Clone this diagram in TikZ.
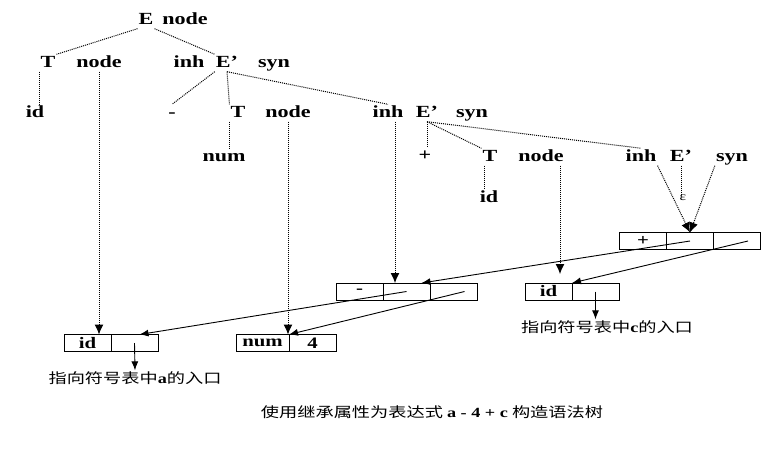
\documentclass[tikz,border=0pt]{standalone}
\usepackage{fontspec}
\setmainfont[FakeStretch=1.3]{Liberation Serif}
\newfontfamily\cjk[FakeStretch=1.3]{Noto Sans CJK SC}
\usetikzlibrary{arrows.meta,positioning}

\begin{document}
\begin{tikzpicture}[x=1pt,y=-1pt,
    lbl/.style={font=\fontsize{17}{20}\selectfont\bfseries, inner sep=1pt, text height=11.5pt, text depth=3.5pt},
    cell/.style={draw, line width=0.7pt, minimum width=47pt, minimum height=17pt, inner sep=0pt, outer sep=0pt, font=\fontsize{16}{18}\selectfont\bfseries},
    tree/.style={densely dotted, line width=1pt},
    dptr/.style={tree, -{Latex[length=10pt,width=9pt]}},
    ptr/.style={line width=0.9pt, -{Latex[length=9pt,width=7pt]}},
    note/.style={font=\fontsize{14}{16}\selectfont\cjk, inner sep=1pt}]
  \useasboundingbox (0,0) rectangle (784,450);
  \draw
    (146,20) node[lbl] (E0) {E}
    (185,20) node[lbl] (nd0) {node}
    (48,63) node[lbl] (T1) {T}
    (99,63) node[lbl] (nd1) {node}
    (189,63) node[lbl] (ih1) {inh}
    (227,63) node[lbl] (e1) {E’}
    (274,63) node[lbl] (sy1) {syn}
    (35,113) node[lbl] (id1) {id}
    (172,113) node[lbl] (mi) {-}
    (238,113) node[lbl] (T2) {T}
    (288,113) node[lbl] (nd2) {node}
    (388,113) node[lbl] (ih2) {inh}
    (427,113) node[lbl] (e2) {E’}
    (472,113) node[lbl] (sy2) {syn}
    (224,157) node[lbl] (num) {num}
    (425,156) node[lbl] (pl) {+}
    (490,157) node[lbl] (T3) {T}
    (541,157) node[lbl] (nd3) {node}
    (641,157) node[lbl] (ih3) {inh}
    (681,157) node[lbl] (e3) {E’}
    (732,157) node[lbl] (sy3) {syn}
    (489,198) node[lbl] (id3) {id}
    (683,198) node[font=\fontsize{12}{13}\selectfont, inner sep=1pt] (eps) {ε};

  \node[cell] (p1) at (643,241) {+};
  \node[cell, right=0pt of p1] (p2) {};
  \node[cell, right=0pt of p2] (p3) {};
  \node[cell] (m1) at (359.5,291.5) {-};
  \node[cell, right=0pt of m1] (m2) {};
  \node[cell, right=0pt of m2] (m3) {};
  \node[cell] (r1) at (548.5,291.5) {id};
  \node[cell, right=0pt of r1] (r2) {};
  \node[cell] (l1) at (87.5,343) {id};
  \node[cell, right=0pt of l1] (l2) {};
  \node[cell, minimum width=53pt] (n1) at (262.5,343) {num};
  \node[cell, right=0pt of n1] (n2) {4};

  \node[note] (la) at (135,378) {指向符号表中{\rmfamily\bfseries a}的入口};
  \node[note] (lc) at (607,327) {指向符号表中{\rmfamily\bfseries c}的入口};
  \node[note] (cap) at (432,412) {使用继承属性为表达式 {\rmfamily\bfseries a - 4 + c} 构造语法树};

  \begin{scope}[tree]
    \draw (E0.south west) -- (T1.north east);
    \draw (E0.south east) -- (e1.north west);
    \draw (T1.south west) -- (T1.south west |- id1.north);
    \draw (e1.south west) -- (mi.north);
    \draw (e1.south) -- (T2.north west);
    \draw (e1.south) -- (ih2.north);
    \draw (T2.south west) -- (T2.south west |- num.north);
    \draw (e2.south) -- (e2.south |- pl.north);
    \draw (e2.south) -- (T3.north west);
    \draw (e2.south) -- (ih3.north);
    \draw ([xshift=3pt]T3.south west) -- ([xshift=3pt]T3.south west |- id3.north);
    \draw (e3.south) -- (e3.south |- eps.north);
  \end{scope}

  \draw[dptr] (nd1.south) -- (nd1.south |- l1.north);
  \draw[dptr] (nd2.south) -- (nd2.south |- n1.north);
  \draw[dptr] ([xshift=7pt]ih2.south) -- ([xshift=7pt]ih2.south |- m2.north);
  \draw[dptr, shorten >=9pt] ([xshift=19pt]nd3.south) -- ([xshift=19pt]nd3.south |- r1.north);
  \draw[dptr] (ih3.south east) -- (p2.north);
  \draw[dptr] (sy3.south west) -- (p2.north);

  \draw[ptr] (p2.center) -- ([xshift=15pt]m2.north);
  \draw[ptr] ([xshift=11pt]p3.center) -- (r2.north west);
  \draw[ptr] (m2.center) -- ([xshift=5pt]l2.north);
  \draw[ptr] ([xshift=11pt]m3.center) -- (n2.north west);
  \draw[ptr] (l2.center) -- (la.north);
  \draw[ptr] (r2.center) -- (r2.center |- lc.north);
\end{tikzpicture}
\end{document}
